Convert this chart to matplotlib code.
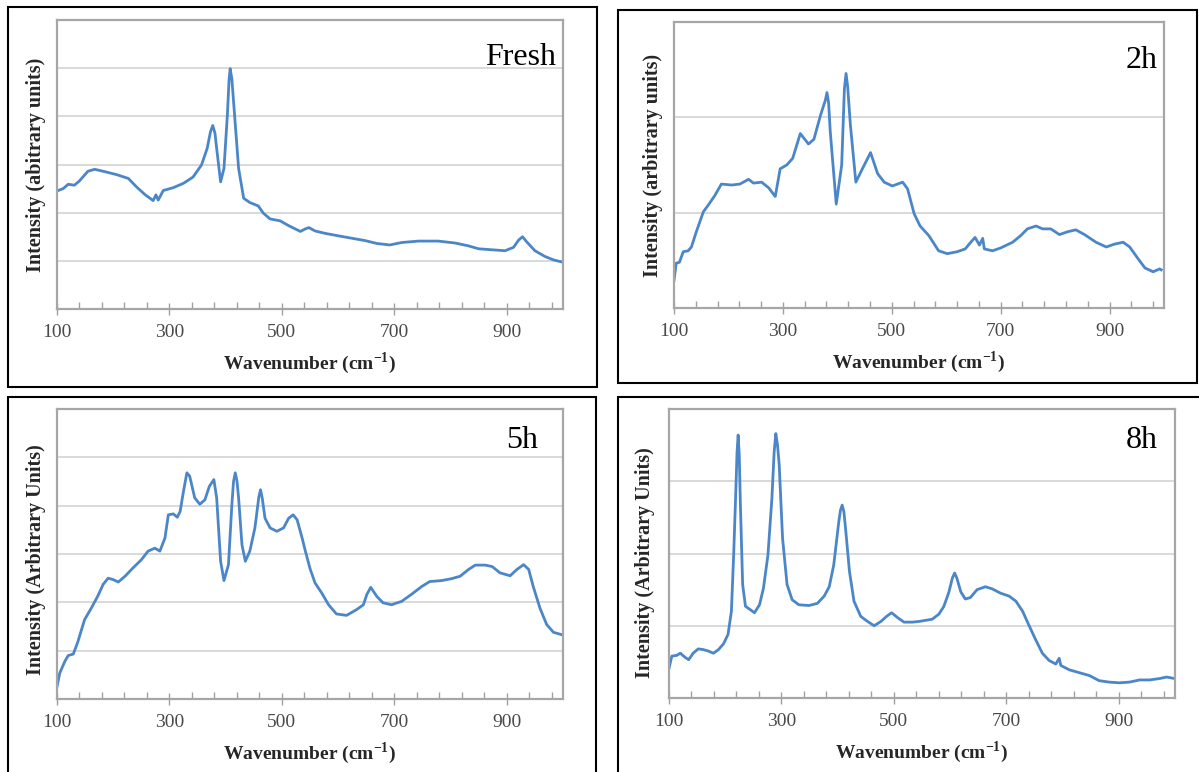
import numpy as np
import matplotlib
matplotlib.use('Agg')
import matplotlib.pyplot as plt
from matplotlib.patches import Rectangle

# spectra (x = wavenumber, y in gridline units)
fresh_x = [100, 111, 120, 131, 140, 155, 167, 182, 206, 227, 241, 256, 271, 276, 280, 289,
           307, 325, 342, 357, 367, 373, 377, 381, 384, 391, 397, 403, 406, 408, 411, 415,
           423, 432, 443, 458, 467, 479, 497, 512, 533, 541, 548, 559, 577, 600, 624, 648,
           669, 692, 713, 743, 778, 808, 832, 850, 873, 897, 912, 921, 928, 935, 950, 968,
           983, 1000]
fresh_y = [2.45, 2.50, 2.59, 2.57, 2.66, 2.86, 2.90, 2.86, 2.79, 2.71, 2.54, 2.38, 2.25, 2.37,
           2.26, 2.46, 2.52, 2.61, 2.74, 2.99, 3.33, 3.68, 3.81, 3.65, 3.33, 2.64, 2.92, 4.02,
           4.75, 4.99, 4.78, 4.16, 2.92, 2.30, 2.21, 2.14, 1.99, 1.87, 1.83, 1.73, 1.61, 1.66,
           1.69, 1.62, 1.57, 1.52, 1.47, 1.42, 1.36, 1.33, 1.38, 1.41, 1.41, 1.37, 1.31, 1.25,
           1.23, 1.21, 1.28, 1.43, 1.50, 1.40, 1.21, 1.09, 1.02, 0.97]

h2_x = [100, 104, 110, 117, 126, 132, 141, 154, 163, 175, 187, 206, 221, 237, 246, 261, 274,
        286, 295, 307, 318, 332, 347, 357, 369, 378, 381, 384, 387, 398, 408, 413, 416, 419,
        424, 434, 446, 461, 474, 486, 501, 520, 529, 541, 552, 568, 586, 602, 620, 635, 645,
        653, 661, 667, 670, 685, 700, 722, 737, 749, 765, 777, 792, 808, 823, 838, 854, 875,
        894, 909, 925, 937, 952, 965, 980, 992, 995]
h2_y = [0.29, 0.47, 0.48, 0.59, 0.60, 0.64, 0.80, 1.01, 1.08, 1.18, 1.30, 1.29, 1.30, 1.35,
        1.31, 1.32, 1.26, 1.17, 1.46, 1.50, 1.57, 1.83, 1.72, 1.77, 2.02, 2.18, 2.26, 2.15,
        1.85, 1.09, 1.50, 2.30, 2.46, 2.32, 1.92, 1.32, 1.46, 1.63, 1.41, 1.32, 1.28, 1.32,
        1.25, 0.99, 0.86, 0.76, 0.60, 0.57, 0.59, 0.62, 0.69, 0.74, 0.66, 0.73, 0.62, 0.60,
        0.63, 0.69, 0.76, 0.83, 0.86, 0.83, 0.83, 0.77, 0.80, 0.82, 0.77, 0.69, 0.64, 0.67,
        0.69, 0.64, 0.52, 0.42, 0.38, 0.41, 0.40]

h5_x = [100, 105, 114, 120, 129, 137, 149, 161, 173, 182, 191, 200, 209, 221, 235, 250, 262,
        274, 283, 292, 298, 307, 314, 319, 325, 331, 336, 345, 354, 363, 371, 379, 384, 391,
        397, 405, 411, 414, 417, 420, 423, 429, 435, 443, 452, 459, 462, 465, 470, 479, 491,
        503, 512, 520, 527, 536, 542, 550, 559, 571, 583, 597, 615, 633, 645, 651, 658, 669,
        680, 695, 713, 731, 749, 763, 784, 802, 817, 832, 844, 862, 874, 888, 906, 918, 930,
        939, 947, 959, 971, 983, 998]
h5_y = [0.26, 0.54, 0.78, 0.90, 0.93, 1.18, 1.64, 1.88, 2.14, 2.37, 2.50, 2.47, 2.42, 2.54,
        2.71, 2.88, 3.06, 3.12, 3.06, 3.33, 3.81, 3.83, 3.76, 3.88, 4.30, 4.68, 4.61, 4.16,
        4.03, 4.12, 4.40, 4.54, 4.16, 2.85, 2.45, 2.78, 4.02, 4.50, 4.68, 4.52, 4.16, 3.19,
        2.85, 3.06, 3.54, 4.18, 4.33, 4.16, 3.74, 3.54, 3.47, 3.54, 3.74, 3.81, 3.71, 3.33,
        3.05, 2.70, 2.40, 2.19, 1.95, 1.76, 1.73, 1.85, 1.95, 2.16, 2.31, 2.12, 1.99, 1.95,
        2.02, 2.17, 2.33, 2.43, 2.45, 2.49, 2.54, 2.68, 2.77, 2.77, 2.74, 2.61, 2.55, 2.68,
        2.78, 2.68, 2.33, 1.88, 1.54, 1.38, 1.33]

h8_x = [100, 105, 114, 120, 129, 135, 143, 152, 161, 170, 179, 188, 197, 205, 211, 215, 219,
        221, 223, 225, 227, 231, 236, 245, 252, 261, 268, 276, 283, 287, 290, 293, 296, 302,
        310, 319, 331, 349, 364, 376, 385, 393, 402, 405, 408, 411, 414, 421, 429, 441, 453,
        465, 477, 487, 496, 507, 518, 533, 545, 568, 580, 589, 598, 604, 608, 612, 619, 627,
        636, 648, 663, 675, 690, 705, 717, 729, 740, 752, 764, 776, 788, 794, 797, 812, 830,
        848, 865, 883, 901, 919, 937, 955, 973, 985, 999]
h8_y = [0.41, 0.58, 0.59, 0.62, 0.56, 0.53, 0.62, 0.68, 0.67, 0.65, 0.62, 0.67, 0.75, 0.88,
        1.20, 1.98, 2.90, 3.40, 3.64, 3.35, 2.67, 1.57, 1.27, 1.22, 1.18, 1.29, 1.52, 1.98,
        2.76, 3.40, 3.66, 3.50, 3.23, 2.21, 1.57, 1.36, 1.29, 1.28, 1.31, 1.41, 1.54, 1.84,
        2.44, 2.60, 2.67, 2.58, 2.35, 1.75, 1.34, 1.13, 1.06, 1.00, 1.06, 1.13, 1.18, 1.11,
        1.05, 1.05, 1.06, 1.09, 1.16, 1.27, 1.47, 1.66, 1.73, 1.66, 1.47, 1.37, 1.39, 1.50,
        1.54, 1.51, 1.45, 1.41, 1.34, 1.20, 1.01, 0.81, 0.62, 0.52, 0.47, 0.55, 0.45, 0.39,
        0.35, 0.31, 0.24, 0.22, 0.21, 0.22, 0.25, 0.25, 0.27, 0.29, 0.27]

names = ['Fresh', '2h', '5h', '8h']
ylabels = ['Intensity (abitrary units)', 'Intensity (arbitrary units)',
           'Intensity (Arbitrary Units)', 'Intensity (Arbitrary Units)']
grid_tops = [6, 3, 6, 4]
major_ticks = [100, 300, 500, 700, 900]
minor_ticks = list(range(100, 1000, 40))

W, H = 1199, 772
BLUE = '#4a86c8'
SERIF = 'Liberation Serif'

plt.rcParams['mathtext.fontset'] = 'custom'
plt.rcParams['mathtext.rm'] = 'Liberation Serif:bold'
plt.rcParams['mathtext.bf'] = 'Liberation Serif:bold'


def px_rect(l, t, r, b):
    return [l / W, 1 - b / H, (r - l) / W, (b - t) / H]


# layout in pixels: plot area, outer frame, panel label pos, ylabel pos
axes_px = [(57, 20, 563, 309), (674, 22, 1164, 308), (57, 409, 563, 699), (669, 409, 1175, 698)]
boxes_px = [(8, 7, 597, 387), (618, 10, 1197, 383), (8, 397, 596, 790), (618, 397, 1215, 790)]
tag_pos = [(0.986, 0.844), (0.987, 0.838), (0.95, 0.866), (0.966, 0.865)]
ylab_pos = [(-0.042, 0.5), (-0.043, 0.5), (-0.042, 0.48), (-0.047, 0.47)]

data = [(fresh_x, fresh_y), (h2_x, h2_y), (h5_x, h5_y), (h8_x, h8_y)]

fig = plt.figure(figsize=(W / 100, H / 100), dpi=100)

for i in range(4):
    l, t, r, b = axes_px[i]
    ax = fig.add_axes(px_rect(l, t, r, b))
    x, y = data[i]
    ax.plot(x, y, color=BLUE, lw=2.0, solid_joinstyle='round')

    ax.set_xlim(100, 1000)
    ax.set_ylim(0, grid_tops[i])
    ax.set_yticks(range(1, grid_tops[i]))
    ax.yaxis.grid(True, color='#d9d9d9', lw=1.4)
    ax.set_axisbelow(True)
    ax.tick_params(axis='y', length=0, labelleft=False)

    ax.set_xticks(major_ticks)
    ax.set_xticks(minor_ticks, minor=True)
    ax.set_xticklabels([str(v) for v in major_ticks])
    ax.tick_params(axis='x', which='major', direction='inout', length=8, width=1,
                   color='#a0a0a0', pad=7, labelsize=14, labelcolor='#4a4a4a')
    ax.tick_params(axis='x', which='minor', direction='in', length=5, width=1,
                   color='#a0a0a0')
    for lab in ax.get_xticklabels():
        lab.set_family(SERIF)

    for s in ax.spines.values():
        s.set_color('#a6a6a6')
        s.set_linewidth(1.6)

    ax.set_xlabel('Wavenumber (cm$^{-1}$)', family=SERIF, fontweight='bold',
                  fontsize=14, color='#262626', va='center')
    ax.xaxis.set_label_coords(0.5, -54.0 / (b - t))
    ax.set_ylabel(ylabels[i], family=SERIF, fontweight='bold', fontsize=14.5,
                  color='#262626', va='center')
    ax.yaxis.set_label_coords(*ylab_pos[i])

    ax.text(tag_pos[i][0], tag_pos[i][1], names[i], transform=ax.transAxes,
            ha='right', va='baseline', fontsize=23, family=SERIF, color='black')

    bl, bt, br, bb = boxes_px[i]
    fig.patches.append(Rectangle((bl / W, 1 - bb / H), (br - bl) / W, (bb - bt) / H,
                                 transform=fig.transFigure, fill=False,
                                 edgecolor='black', lw=1.5))

fig.savefig('out.png', dpi=100)
